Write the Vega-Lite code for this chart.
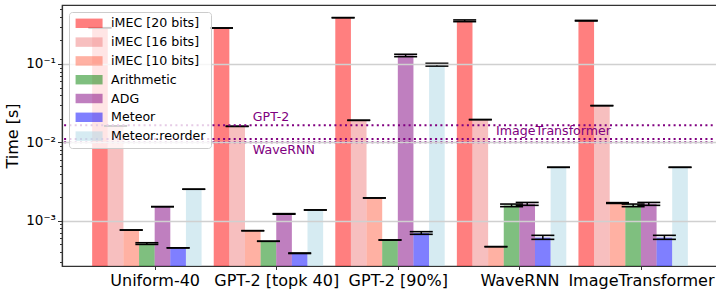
{
  "$schema": "https://vega.github.io/schema/vega-lite/v6.json",
  "width": 656,
  "height": 261,
  "autosize": "none",
  "padding": {"left": 62, "top": 5, "right": -2, "bottom": 24},
  "config": {
    "font": "DejaVu Sans",
    "view": {"stroke": "#333333", "strokeWidth": 1.2}
  },
  "datasets": {
    "bars": [
      {"group": "Uniform-40", "method": "iMEC [20 bits]", "value": 0.29, "lo": 0.29, "hi": 0.29},
      {"group": "Uniform-40", "method": "iMEC [16 bits]", "value": 0.0162, "lo": 0.0162, "hi": 0.0162},
      {"group": "Uniform-40", "method": "iMEC [10 bits]", "value": 0.00076, "lo": 0.00076, "hi": 0.00076},
      {"group": "Uniform-40", "method": "Arithmetic", "value": 0.00051, "lo": 0.000498, "hi": 0.000523},
      {"group": "Uniform-40", "method": "ADG", "value": 0.00151, "lo": 0.00151, "hi": 0.00151},
      {"group": "Uniform-40", "method": "Meteor", "value": 0.00045, "lo": 0.00045, "hi": 0.00045},
      {"group": "Uniform-40", "method": "Meteor:reorder", "value": 0.00252, "lo": 0.00252, "hi": 0.00252},
      {"group": "GPT-2 [topk 40]", "method": "iMEC [20 bits]", "value": 0.288, "lo": 0.288, "hi": 0.288},
      {"group": "GPT-2 [topk 40]", "method": "iMEC [16 bits]", "value": 0.016, "lo": 0.016, "hi": 0.016},
      {"group": "GPT-2 [topk 40]", "method": "iMEC [10 bits]", "value": 0.000745, "lo": 0.000745, "hi": 0.000745},
      {"group": "GPT-2 [topk 40]", "method": "Arithmetic", "value": 0.000546, "lo": 0.000546, "hi": 0.000546},
      {"group": "GPT-2 [topk 40]", "method": "ADG", "value": 0.00122, "lo": 0.00121, "hi": 0.00123},
      {"group": "GPT-2 [topk 40]", "method": "Meteor", "value": 0.000384, "lo": 0.000381, "hi": 0.000387},
      {"group": "GPT-2 [topk 40]", "method": "Meteor:reorder", "value": 0.00137, "lo": 0.00137, "hi": 0.00137},
      {"group": "GPT-2 [90%]", "method": "iMEC [20 bits]", "value": 0.39, "lo": 0.39, "hi": 0.39},
      {"group": "GPT-2 [90%]", "method": "iMEC [16 bits]", "value": 0.0191, "lo": 0.0191, "hi": 0.0191},
      {"group": "GPT-2 [90%]", "method": "iMEC [10 bits]", "value": 0.00195, "lo": 0.00195, "hi": 0.00195},
      {"group": "GPT-2 [90%]", "method": "Arithmetic", "value": 0.000567, "lo": 0.000567, "hi": 0.000567},
      {"group": "GPT-2 [90%]", "method": "ADG", "value": 0.128, "lo": 0.124, "hi": 0.133},
      {"group": "GPT-2 [90%]", "method": "Meteor", "value": 0.000696, "lo": 0.00067, "hi": 0.000724},
      {"group": "GPT-2 [90%]", "method": "Meteor:reorder", "value": 0.098, "lo": 0.094, "hi": 0.102},
      {"group": "WaveRNN", "method": "iMEC [20 bits]", "value": 0.355, "lo": 0.347, "hi": 0.365},
      {"group": "WaveRNN", "method": "iMEC [16 bits]", "value": 0.0195, "lo": 0.0195, "hi": 0.0195},
      {"group": "WaveRNN", "method": "iMEC [10 bits]", "value": 0.000466, "lo": 0.000466, "hi": 0.000466},
      {"group": "WaveRNN", "method": "Arithmetic", "value": 0.00156, "lo": 0.00151, "hi": 0.00163},
      {"group": "WaveRNN", "method": "ADG", "value": 0.00164, "lo": 0.00157, "hi": 0.00171},
      {"group": "WaveRNN", "method": "Meteor", "value": 0.00061, "lo": 0.000578, "hi": 0.00065},
      {"group": "WaveRNN", "method": "Meteor:reorder", "value": 0.0048, "lo": 0.0048, "hi": 0.0048},
      {"group": "ImageTransformer", "method": "iMEC [20 bits]", "value": 0.357, "lo": 0.354, "hi": 0.36},
      {"group": "ImageTransformer", "method": "iMEC [16 bits]", "value": 0.0294, "lo": 0.0294, "hi": 0.0294},
      {"group": "ImageTransformer", "method": "iMEC [10 bits]", "value": 0.00168, "lo": 0.00166, "hi": 0.0017},
      {"group": "ImageTransformer", "method": "Arithmetic", "value": 0.00156, "lo": 0.00151, "hi": 0.00163},
      {"group": "ImageTransformer", "method": "ADG", "value": 0.00164, "lo": 0.00157, "hi": 0.00171},
      {"group": "ImageTransformer", "method": "Meteor", "value": 0.00061, "lo": 0.000578, "hi": 0.00065},
      {"group": "ImageTransformer", "method": "Meteor:reorder", "value": 0.0048, "lo": 0.0048, "hi": 0.0048}
    ],
    "lines": [
      {"name": "GPT-2", "value": 0.0165, "group": "GPT-2 [topk 40]", "method": "iMEC [10 bits]", "side": "above"},
      {"name": "ImageTransformer", "value": 0.011, "group": "WaveRNN", "method": "iMEC [10 bits]", "side": "above"},
      {"name": "WaveRNN", "value": 0.01, "group": "GPT-2 [topk 40]", "method": "iMEC [10 bits]", "side": "below"}
    ]
  },
  "layer": [
    {
      "data": {"name": "bars"},
      "mark": {"type": "bar", "opacity": 0.5},
      "encoding": {
        "x": {
          "field": "group", "type": "nominal", "title": null,
          "sort": ["Uniform-40", "GPT-2 [topk 40]", "GPT-2 [90%]", "WaveRNN", "ImageTransformer"],
          "scale": {"paddingInner": 0.1, "paddingOuter": 0.248},
          "axis": {
            "labelAngle": 0, "labelFontSize": 16, "labelColor": "black",
            "tickColor": "#333333", "tickSize": 3.5, "tickWidth": 1,
            "domainColor": "#333333", "domainWidth": 1.2,
            "tickOffset": 7.8, "grid": false, "labelPadding": 3
          }
        },
        "xOffset": {
          "field": "method", "type": "nominal",
          "sort": ["iMEC [20 bits]", "iMEC [16 bits]", "iMEC [10 bits]", "Arithmetic", "ADG", "Meteor", "Meteor:reorder"],
          "scale": {"paddingInner": 0, "paddingOuter": 0}
        },
        "y": {
          "field": "value", "type": "quantitative", "title": "Time [s]", "stack": null,
          "scale": {"type": "log", "domain": [0.000264, 0.566], "nice": false},
          "axis": {
            "values": [0.0003, 0.0004, 0.0005, 0.0006, 0.0007, 0.0008, 0.0009, 0.001, 0.002, 0.003, 0.004, 0.005, 0.006, 0.007, 0.008, 0.009, 0.01, 0.02, 0.03, 0.04, 0.05, 0.06, 0.07, 0.08, 0.09, 0.1, 0.2, 0.3, 0.4, 0.5],
            "labelExpr": "datum.value == 0.1 ? '10⁻¹' : datum.value == 0.01 ? '10⁻²' : datum.value == 0.001 ? '10⁻³' : ''",
            "labelFontSize": 13.5, "labelColor": "black", "labelPadding": 2,
            "tickColor": "#333333", "tickWidth": 1,
            "tickSize": {"condition": {"test": "datum.value == 0.1 || datum.value == 0.01 || datum.value == 0.001", "value": 4.5}, "value": 2.5},
            "grid": true, "gridColor": "#d0d0d0", "gridWidth": 1.5,
            "gridOpacity": {"condition": {"test": "datum.value == 0.1 || datum.value == 0.01 || datum.value == 0.001", "value": 1}, "value": 0},
            "domainColor": "#333333", "domainWidth": 1.2,
            "titleFontSize": 16, "titleFontWeight": "normal", "titleColor": "black", "titlePadding": 5,
            "zindex": 1
          }
        },
        "y2": {"value": "height"},
        "color": {
          "field": "method", "type": "nominal",
          "sort": ["iMEC [20 bits]", "iMEC [16 bits]", "iMEC [10 bits]", "Arithmetic", "ADG", "Meteor", "Meteor:reorder"],
          "scale": {
            "domain": ["iMEC [20 bits]", "iMEC [16 bits]", "iMEC [10 bits]", "Arithmetic", "ADG", "Meteor", "Meteor:reorder"],
            "range": ["#ff0000", "#f08080", "#ff6347", "#008000", "#800080", "#0000ff", "#add8e6"]
          },
          "legend": {
            "title": null, "orient": "none", "legendX": 7, "legendY": 7,
            "labelFontSize": 12.6, "labelColor": "black", "labelOffset": 24.5,
            "symbolType": "M-1,-1H4.714V1H-1Z", "symbolSize": 89.3, "symbolOpacity": 0.5, "symbolStrokeWidth": 0,
            "rowPadding": 5.8, "padding": 5,
            "fillColor": "rgba(255,255,255,0.8)", "strokeColor": "#cccccc", "cornerRadius": 3,
            "zindex": 2
          }
        }
      }
    },
    {
      "data": {"name": "bars"},
      "mark": {"type": "rule", "color": "black", "strokeWidth": 1.5},
      "encoding": {
        "x": {"field": "group", "type": "nominal", "title": null, "sort": ["Uniform-40", "GPT-2 [topk 40]", "GPT-2 [90%]", "WaveRNN", "ImageTransformer"]},
        "xOffset": {"field": "method", "type": "nominal", "sort": ["iMEC [20 bits]", "iMEC [16 bits]", "iMEC [10 bits]", "Arithmetic", "ADG", "Meteor", "Meteor:reorder"]},
        "y": {"field": "lo", "type": "quantitative", "title": "Time [s]"},
        "y2": {"field": "hi"}
      }
    },
    {
      "data": {"name": "bars"},
      "mark": {"type": "tick", "color": "black", "thickness": 1.6, "size": 23, "orient": "horizontal", "opacity": 1},
      "encoding": {
        "x": {"field": "group", "type": "nominal", "title": null, "sort": ["Uniform-40", "GPT-2 [topk 40]", "GPT-2 [90%]", "WaveRNN", "ImageTransformer"]},
        "xOffset": {"field": "method", "type": "nominal", "sort": ["iMEC [20 bits]", "iMEC [16 bits]", "iMEC [10 bits]", "Arithmetic", "ADG", "Meteor", "Meteor:reorder"]},
        "y": {"field": "lo", "type": "quantitative", "title": "Time [s]"}
      }
    },
    {
      "data": {"name": "bars"},
      "mark": {"type": "tick", "color": "black", "thickness": 1.6, "size": 23, "orient": "horizontal", "opacity": 1},
      "encoding": {
        "x": {"field": "group", "type": "nominal", "title": null, "sort": ["Uniform-40", "GPT-2 [topk 40]", "GPT-2 [90%]", "WaveRNN", "ImageTransformer"]},
        "xOffset": {"field": "method", "type": "nominal", "sort": ["iMEC [20 bits]", "iMEC [16 bits]", "iMEC [10 bits]", "Arithmetic", "ADG", "Meteor", "Meteor:reorder"]},
        "y": {"field": "hi", "type": "quantitative", "title": "Time [s]"}
      }
    },
    {
      "data": {"name": "lines"},
      "mark": {"type": "rule", "color": "#800080", "strokeWidth": 2, "strokeDash": [2, 3.3]},
      "encoding": {
        "y": {"field": "value", "type": "quantitative", "title": "Time [s]"}
      }
    },
    {
      "data": {"name": "lines"},
      "transform": [{"filter": "datum.side == 'above'"}],
      "mark": {"type": "text", "color": "#800080", "fontSize": 12.6, "align": "left", "baseline": "bottom", "dy": -1},
      "encoding": {
        "x": {"field": "group", "type": "nominal", "title": null, "sort": ["Uniform-40", "GPT-2 [topk 40]", "GPT-2 [90%]", "WaveRNN", "ImageTransformer"]},
        "xOffset": {"field": "method", "type": "nominal", "sort": ["iMEC [20 bits]", "iMEC [16 bits]", "iMEC [10 bits]", "Arithmetic", "ADG", "Meteor", "Meteor:reorder"]},
        "y": {"field": "value", "type": "quantitative", "title": "Time [s]"},
        "text": {"field": "name"}
      }
    },
    {
      "data": {"name": "lines"},
      "transform": [{"filter": "datum.side == 'below'"}],
      "mark": {"type": "text", "color": "#800080", "fontSize": 12.6, "align": "left", "baseline": "top", "dy": 2},
      "encoding": {
        "x": {"field": "group", "type": "nominal", "title": null, "sort": ["Uniform-40", "GPT-2 [topk 40]", "GPT-2 [90%]", "WaveRNN", "ImageTransformer"]},
        "xOffset": {"field": "method", "type": "nominal", "sort": ["iMEC [20 bits]", "iMEC [16 bits]", "iMEC [10 bits]", "Arithmetic", "ADG", "Meteor", "Meteor:reorder"]},
        "y": {"field": "value", "type": "quantitative", "title": "Time [s]"},
        "text": {"field": "name"}
      }
    }
  ]
}
